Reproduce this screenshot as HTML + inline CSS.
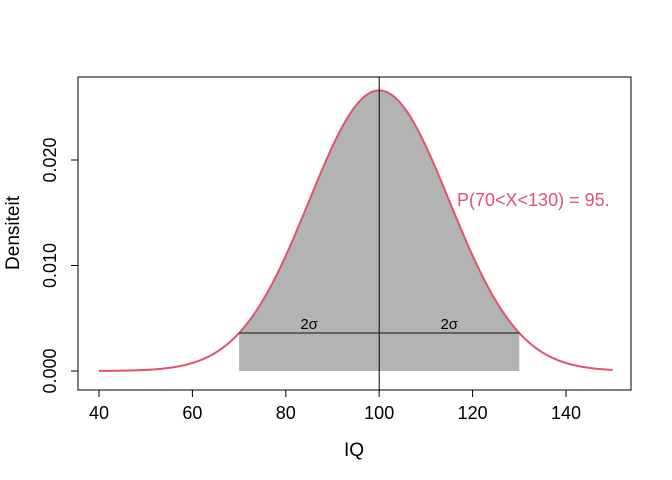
<!DOCTYPE html>
<html><head><meta charset="utf-8"><style>
html,body{margin:0;padding:0;background:#fff;}
svg{display:block;font-family:"Liberation Sans",sans-serif;}
</style></head><body>
<svg id="chart" width="672" height="480" viewBox="0 0 672 480" xmlns="http://www.w3.org/2000/svg">
<defs><clipPath id="plotclip"><rect x="78" y="77" width="553" height="313"/></clipPath></defs>
<g id="plot" clip-path="url(#plotclip)"></g>
<rect x="78" y="77" width="553" height="313" fill="none" stroke="#000" stroke-width="1"/>
<g id="axes"></g>
<text x="354" y="456" font-size="19" text-anchor="middle">IQ</text>
<text transform="translate(19,233) rotate(-90)" font-size="19" text-anchor="middle">Densiteit</text>
</svg>
<script>
const distMean = [100];
const distSd = [15];
const curveRange = [40, 150];
const shadeRange = [70, 130];
const xTicks = [40, 60, 80, 100, 120, 140];
const yTicks = [0, 0.01, 0.02];
const yTickLabels = ["0.000", "0.010", "0.020"];
const probLabel = ["P(70<X<130) = 95."];

const NS = "http://www.w3.org/2000/svg";
const xs = v => 99 + (v - 40) * (566 - 99) / 100;
const ys = v => 371 - v * 10550;
const mu = distMean[0], sd = distSd[0];
const dn = x => Math.exp(-0.5 * ((x - mu) / sd) ** 2) / (sd * Math.sqrt(2 * Math.PI));
function mk(tag, attrs, parent) { const e = document.createElementNS(NS, tag); for (const k in attrs) e.setAttribute(k, attrs[k]); parent.appendChild(e); return e; }
const plot = document.getElementById("plot"), axes = document.getElementById("axes");

// shaded area
let d = `M${xs(shadeRange[0])},${ys(0)}`;
for (let x = shadeRange[0]; x <= shadeRange[1] + 1e-9; x += 0.25) d += ` L${xs(x).toFixed(2)},${ys(dn(x)).toFixed(2)}`;
d += ` L${xs(shadeRange[1])},${ys(0)} Z`;
const poly = mk("path", { d: d, fill: "#b3b3b3", stroke: "none" }, plot);



// curve
let c = "";
for (let x = curveRange[0]; x <= curveRange[1] + 1e-9; x += 0.25) c += (c ? " L" : "M") + xs(x).toFixed(2) + "," + ys(dn(x)).toFixed(2);
const curve = mk("path", { d: c, fill: "none", stroke: "#df536b", "stroke-width": 2 }, plot);



// vertical mean line
const vl = mk("line", { x1: xs(mu), x2: xs(mu), y1: 77, y2: 390, stroke: "#000", "stroke-width": 1 }, plot);



// 2 sigma line
const hy = ys(dn(mu + 2 * sd));
const hl = mk("line", { x1: xs(mu - 2 * sd), x2: xs(mu + 2 * sd), y1: hy, y2: hy, stroke: "#333", "stroke-width": 1.2 }, plot);


[mu - sd, mu + sd].forEach((v, i) => {
  const t = mk("text", { x: xs(v), y: hy - 4, "font-size": 15, "text-anchor": "middle" }, plot);
  t.textContent = "2σ";
  
  
});

const pl = mk("text", { x: 457, y: 206, "font-size": 18, fill: "#df536b" }, plot);
pl.textContent = probLabel[0];



// x axis
const xa = mk("line", { x1: xs(xTicks[0]), x2: xs(xTicks[xTicks.length - 1]), y1: 390, y2: 390, stroke: "#000" }, axes);


xTicks.forEach(v => {
  const tk = mk("line", { x1: xs(v), x2: xs(v), y1: 390, y2: 397, stroke: "#000" }, axes);
  
  
  const t = mk("text", { x: xs(v), y: 419, "font-size": 18, "text-anchor": "middle" }, axes);
  t.textContent = v;
  
  
});
// y axis
const ya = mk("line", { x1: 78, x2: 78, y1: ys(yTicks[0]), y2: ys(yTicks[yTicks.length - 1]), stroke: "#000" }, axes);


yTicks.forEach((v, i) => {
  const tk = mk("line", { x1: 71, x2: 78, y1: ys(v), y2: ys(v), stroke: "#000" }, axes);
  
  
  const t = mk("text", { transform: `translate(56,${ys(v)}) rotate(-90)`, "font-size": 18, "text-anchor": "middle" }, axes);
  t.textContent = yTickLabels[i];
  
  
});
</script>
</body></html>
